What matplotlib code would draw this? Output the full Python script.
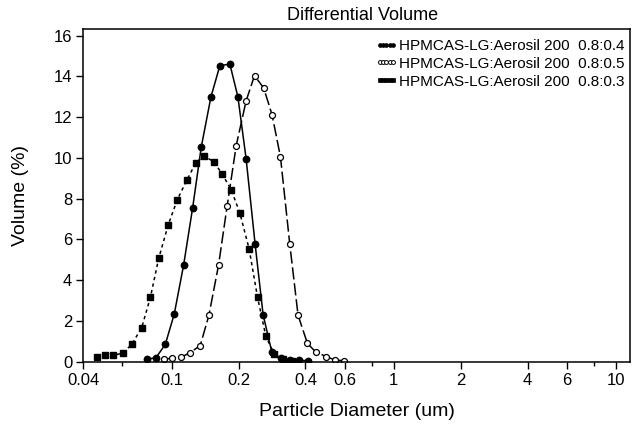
import matplotlib
matplotlib.use("Agg")
import matplotlib.pyplot as plt
from matplotlib.lines import Line2D
from matplotlib.legend_handler import HandlerLine2D
from matplotlib.ticker import FixedLocator, FixedFormatter, NullFormatter

plt.rcParams['font.family'] = ['Liberation Sans', 'DejaVu Sans']

# ---- data ----
x_04 = [0.0774, 0.0850, 0.0936, 0.1027, 0.1132, 0.1243, 0.1358, 0.1502, 0.1648,
        0.1828, 0.1986, 0.2163, 0.2374, 0.2580, 0.2822, 0.3097, 0.3398, 0.3730, 0.4095]
y_04 = [0.12, 0.20, 0.85, 2.34, 4.75, 7.56, 10.52, 12.99, 14.53,
        14.60, 13.00, 9.96, 5.78, 2.30, 0.49, 0.16, 0.10, 0.07, 0.05]

x_05 = [0.0921, 0.1003, 0.1104, 0.1212, 0.1344, 0.1471, 0.1626, 0.1777, 0.1951, 0.2163,
        0.2360, 0.2598, 0.2831, 0.3088, 0.3400, 0.3706, 0.4083, 0.4448, 0.4970, 0.5433, 0.5963]
y_05 = [0.12, 0.17, 0.22, 0.45, 0.79, 2.28, 4.75, 7.64, 10.59, 12.80,
        14.04, 13.42, 12.11, 10.05, 5.78, 2.28, 0.90, 0.48, 0.25, 0.08, 0.05]

x_03 = [0.0460, 0.0503, 0.0547, 0.0604, 0.0661, 0.0733, 0.0802, 0.0874, 0.0965, 0.1060,
        0.1171, 0.1282, 0.1393, 0.1544, 0.1688, 0.1852, 0.2027, 0.2232, 0.2434, 0.2653,
        0.2890, 0.3162, 0.3470]
y_03 = [0.22, 0.31, 0.31, 0.43, 0.85, 1.67, 3.16, 5.07, 6.72, 7.95,
        8.92, 9.74, 10.10, 9.82, 9.21, 8.44, 7.30, 5.53, 3.17, 1.26,
        0.38, 0.12, 0.05]

labels = ["HPMCAS-LG:Aerosil 200  0.8:0.4",
          "HPMCAS-LG:Aerosil 200  0.8:0.5",
          "HPMCAS-LG:Aerosil 200  0.8:0.3"]

major_ticks = [0.04, 0.1, 0.2, 0.4, 0.6, 1, 2, 4, 6, 10]
major_labels = ["0.04", "0.1", "0.2", "0.4", "0.6", "1", "2", "4", "6", "10"]
minor_ticks = [0.06, 0.8, 8]
y_ticks = [0, 2, 4, 6, 8, 10, 12, 14, 16]

W, H = 632, 430
fig = plt.figure(figsize=(W / 100, H / 100), dpi=100)
L, R, T, B = 83.3, 630.0, 29.3, 361.7
ax = fig.add_axes([L / W, 1 - B / H, (R - L) / W, (B - T) / H])

ax.plot(x_04, y_04, color='black', lw=1.1, ls='-', marker='o', ms=4.6,
        mfc='black', mec='black')
ax.plot(x_05, y_05, color='black', lw=1.1, ls=(0, (8, 2.5)), marker='o', ms=4.3,
        mfc='white', mec='black', mew=0.9)
ax.plot(x_03, y_03, color='black', lw=1.1, ls=(0, (2.2, 2.2)), marker='s', ms=4.5,
        mfc='black', mec='black')

ax.set_xscale('log')
ax.set_xlim(0.04, 11.57)
ax.set_ylim(0, 16.31)

ax.xaxis.set_major_locator(FixedLocator(major_ticks))
ax.xaxis.set_major_formatter(FixedFormatter(major_labels))
ax.xaxis.set_minor_locator(FixedLocator(minor_ticks))
ax.xaxis.set_minor_formatter(NullFormatter())
ax.set_yticks(y_ticks)

ax.tick_params(axis='both', which='major', direction='out', length=5, width=1.0,
               labelsize=12, pad=3)
ax.tick_params(axis='x', which='minor', direction='out', length=3, width=1.0)
for s in ax.spines.values():
    s.set_linewidth(1.1)

ax.set_xlabel("Particle Diameter (um)", fontsize=14, va='center')
ax.xaxis.set_label_coords(0.5, (B - 411) / (B - T))
ax.set_ylabel("Volume (%)", fontsize=14, va='center')
ax.yaxis.set_label_coords((20 - L) / (R - L), 0.5)

fig.text(363 / W, 1 - 15 / H, "Differential Volume", ha='center', va='center', fontsize=13)

handles = [
    Line2D([], [], ls='none', marker='o', ms=2.8, mfc='black', mec='black', mew=0.5),
    Line2D([], [], ls='none', marker='o', ms=2.8, mfc='white', mec='black', mew=0.7),
    Line2D([], [], ls='none', marker='s', ms=2.7, mfc='black', mec='black', mew=0.5),
]
hmap = {h: HandlerLine2D(marker_pad=0.0) for h in handles}
leg = ax.legend(handles, labels, handler_map=hmap, loc='upper left',
                bbox_to_anchor=(379.5 / W, 1 - 39 / H),
                bbox_transform=fig.transFigure, frameon=False, fontsize=11,
                numpoints=5, handlelength=0.9, handletextpad=0.4,
                labelspacing=0.25, borderpad=0, borderaxespad=0)

fig.savefig("out.png", dpi=100)
